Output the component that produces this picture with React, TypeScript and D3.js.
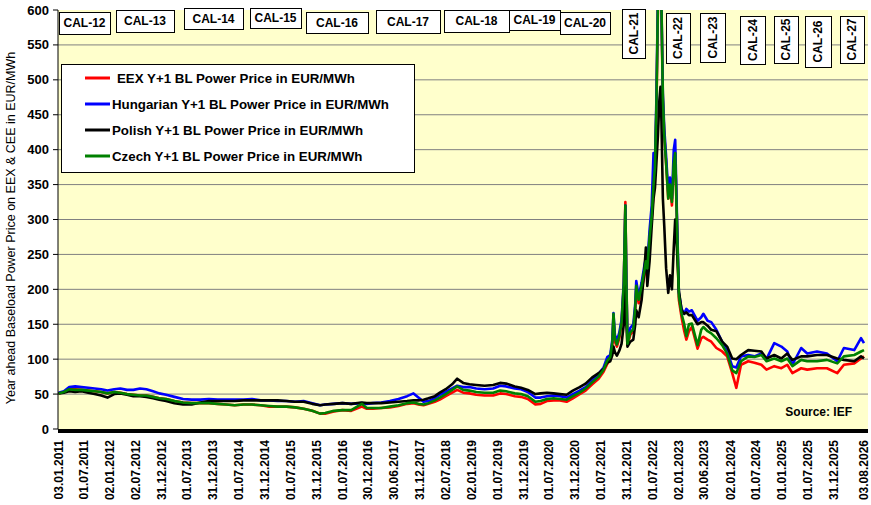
import React from 'react';
import * as d3 from 'd3';

// ---- data ----
const dates = [
  '2011-01-03','2011-02-10','2011-03-20','2011-05-01','2011-06-15','2011-08-01','2011-09-15','2011-11-01','2011-12-15',
  '2012-02-01','2012-03-15','2012-05-01','2012-06-15','2012-08-01','2012-09-15','2012-11-01','2012-12-15',
  '2013-02-01','2013-04-01','2013-06-01','2013-08-01','2013-10-01','2013-12-01',
  '2014-02-01','2014-04-01','2014-06-01','2014-08-01','2014-10-01','2014-12-01',
  '2015-02-01','2015-04-01','2015-06-01','2015-08-01','2015-10-01','2015-12-01',
  '2016-01-25','2016-03-01','2016-05-01','2016-07-01','2016-09-01','2016-11-15','2016-12-20',
  '2017-02-01','2017-04-01','2017-06-01','2017-08-01','2017-10-01','2017-11-15','2017-12-20',
  '2018-01-25','2018-03-01','2018-04-15','2018-05-20','2018-07-01','2018-08-15','2018-09-20','2018-11-01','2018-12-15',
  '2019-02-01','2019-04-01','2019-06-01','2019-07-20','2019-09-01','2019-11-01','2019-12-15',
  '2020-02-01','2020-03-25','2020-05-01','2020-06-15','2020-08-01','2020-09-15','2020-11-01','2020-12-15',
  '2021-02-01','2021-03-15','2021-05-01','2021-06-15','2021-07-20','2021-08-15','2021-09-05','2021-09-20','2021-09-28',
  '2021-10-08','2021-10-22','2021-11-08','2021-11-24','2021-12-10','2021-12-21','2021-12-28',
  '2022-01-05','2022-01-25','2022-02-15','2022-03-01','2022-03-08','2022-03-25','2022-04-15','2022-05-05','2022-05-15',
  '2022-05-25','2022-06-10','2022-06-25','2022-07-08','2022-07-18','2022-07-28','2022-08-08','2022-08-18','2022-08-26',
  '2022-09-02','2022-09-12','2022-09-22','2022-10-05','2022-10-20','2022-11-01','2022-11-15','2022-11-28','2022-12-08','2022-12-20',
  '2023-01-03','2023-01-22','2023-02-10','2023-02-25','2023-03-15','2023-04-05','2023-05-15','2023-06-10','2023-06-25',
  '2023-07-25','2023-08-20','2023-09-25','2023-11-05','2023-12-10',
  '2024-01-15','2024-02-13','2024-03-17','2024-05-07','2024-06-20','2024-08-08','2024-09-13','2024-11-07','2024-12-27',
  '2025-02-07','2025-03-15','2025-05-16','2025-06-28','2025-09-05','2025-11-14',
  '2026-01-26','2026-03-14','2026-05-26','2026-07-13','2026-08-03',
];

const eex = [
  51,53,58,57,56,55,54,53,51,
  53,52,50,49,48,48,46,44,
  43,40,38,37,37,37,
  36,35,34,35,35,34,
  32,32,32,31,29,26,
  22,22,25,27,26,32,29,
  29,30,31,33,36,37,35,
  34,36,39,42,47,52,56,52,51,
  49,48,48,51,50,47,46,
  43,35,36,40,41,41,39,44,
  50,55,64,72,82,93,100,120,160,
  125,118,130,150,205,325,210,
  120,135,140,170,200,180,200,220,235,
  225,270,300,340,370,450,600,640,700,
  600,470,420,380,330,350,320,380,395,300,
  185,160,140,128,140,146,115,130,132,
  128,125,116,111,104,
  80,59,92,97,95,92,85,90,87,
  92,80,87,85,87,87,
  80,92,94,101,104,
];

const hungarian = [
  52,54,60,61,60,59,58,57,55,
  57,58,56,56,58,57,54,51,
  49,46,43,42,42,43,
  42,42,42,42,43,41,
  41,40,40,39,40,37,
  34,35,36,37,36,37,36,
  37,38,40,43,47,51,45,
  39,40,44,49,53,58,62,60,60,
  58,57,58,62,61,58,57,
  53,45,45,47,48,47,45,50,
  55,60,70,79,88,103,106,128,166,
  135,126,138,156,212,320,215,
  128,145,150,180,212,190,210,235,245,
  235,285,320,395,380,470,620,660,720,
  610,480,430,390,340,360,330,400,414,310,
  195,172,165,172,168,170,155,160,165,
  155,153,142,125,111,
  90,88,104,106,104,108,100,123,118,
  111,92,116,108,111,108,
  97,116,113,130,123,
];

const polish = [
  51,52,54,53,54,52,50,48,45,
  50,51,49,47,47,46,44,42,
  40,37,35,35,38,40,
  40,40,40,41,41,41,
  41,41,40,39,39,36,
  34,35,36,37,36,38,37,
  37,37,38,39,40,41,41,
  42,44,47,52,57,64,72,66,64,
  63,62,63,66,65,61,59,
  56,50,51,52,51,50,49,55,
  60,65,74,80,86,95,97,106,118,
  110,105,112,122,150,205,150,
  118,125,128,150,170,160,185,230,260,
  205,240,290,330,345,380,420,470,490,
  440,330,290,230,195,220,200,260,300,260,
  198,170,165,167,163,163,150,153,153,
  148,142,140,125,118,
  101,100,106,113,112,111,101,106,101,
  108,99,104,104,106,106,
  101,99,97,104,101,
];

const czech = [
  51,53,57,56,56,55,54,53,51,
  53,52,50,49,48,48,46,44,
  43,40,38,37,37,37,
  36,35,34,35,35,34,
  33,32,32,31,29,26,
  22,23,26,27,27,36,30,
  30,30,32,34,37,38,36,
  35,37,41,45,50,56,61,56,55,
  53,52,52,55,54,51,50,
  47,39,40,43,44,43,42,47,
  52,58,67,75,85,98,103,124,165,
  130,121,133,152,208,320,212,
  122,138,143,175,205,185,205,228,240,
  230,275,305,350,375,460,610,650,710,
  605,475,420,380,330,350,325,380,395,300,
  190,165,150,133,150,151,120,142,146,
  140,137,130,120,108,
  84,80,97,104,103,106,97,101,97,
  101,90,99,97,97,99,
  94,104,106,111,113,
];

const yTicks = [0, 50, 100, 150, 200, 250, 300, 350, 400, 450, 500, 550, 600];
const xTickLabels = [
  '03.01.2011','01.07.2011','02.01.2012','02.07.2012','31.12.2012','01.07.2013','31.12.2013','01.07.2014',
  '31.12.2014','01.07.2015','31.12.2015','01.07.2016','30.12.2016','30.06.2017','31.12.2017','02.07.2018',
  '02.01.2019','01.07.2019','31.12.2019','01.07.2020','31.12.2020','01.07.2021','31.12.2021','01.07.2022',
  '02.01.2023','30.06.2023','02.01.2024','01.07.2024','01.01.2025','01.07.2025','31.12.2025','03.08.2026',
];
const calLabels = ['CAL-12','CAL-13','CAL-14','CAL-15','CAL-16','CAL-17','CAL-18','CAL-19','CAL-20',
  'CAL-21','CAL-22','CAL-23','CAL-24','CAL-25','CAL-26','CAL-27'];
const legendLabels = [
  'EEX Y+1 BL Power Price in EUR/MWh',
  'Hungarian Y+1 BL Power Price in EUR/MWh',
  'Polish Y+1 BL Power Price in EUR/MWh',
  'Czech Y+1 BL Power Price in EUR/MWh',
];
const yTitle = 'Year ahead Baseload Power Price on EEX & CEE in EUR/MWh';
const sourceText = 'Source: IEF';

// ---- layout / style ----
const W = 871, H = 505;
const P = { left: 58, right: 868, top: 10, bottom: 429 };
const seriesColors = ['#FF0000', '#0000FF', '#000000', '#008000'];
const calBoxes = [
  { x: 59, y: 12, w: 51, h: 22, v: false },
  { x: 116, y: 10, w: 58, h: 22, v: false },
  { x: 184, y: 8, w: 59, h: 21, v: false },
  { x: 250, y: 8, w: 51, h: 20, v: false },
  { x: 306, y: 12, w: 62, h: 21, v: false },
  { x: 376, y: 10, w: 64, h: 23, v: false },
  { x: 444, y: 10, w: 65, h: 22, v: false },
  { x: 509, y: 10, w: 51, h: 20, v: false },
  { x: 560, y: 12, w: 50, h: 22, v: false },
  { x: 622, y: 9, w: 23, h: 49, v: true },
  { x: 666, y: 13, w: 24, h: 50, v: true },
  { x: 700, y: 13, w: 25, h: 49, v: true },
  { x: 740, y: 16, w: 25, h: 48, v: true },
  { x: 774, y: 16, w: 24, h: 47, v: true },
  { x: 805, y: 16, w: 26, h: 51, v: true },
  { x: 840, y: 16, w: 24, h: 47, v: true },
];
const FONT = "Arial, 'Liberation Sans', sans-serif";

export default function App() {
  const parseISO = d3.timeParse('%Y-%m-%d');
  const parseLbl = d3.timeParse('%d.%m.%Y');
  const x = d3.scaleTime()
    .domain([parseLbl(xTickLabels[0]) as Date, parseLbl(xTickLabels[xTickLabels.length - 1]) as Date])
    .range([58.5, 864]);
  const y = d3.scaleLinear().domain([0, 600]).range([P.bottom, P.top]);
  const parsedDates = dates.map((d) => parseISO(d) as Date);
  const series = [eex, hungarian, polish, czech];
  const line = d3.line<number>()
    .x((_, i) => x(parsedDates[i]))
    .y((v) => y(v));

  return (
    <svg width={W} height={H} style={{ position: 'absolute', left: 0, top: 0, fontFamily: FONT }}>
      <defs>
        <clipPath id="plotclip">
          <rect x={P.left} y={P.top} width={P.right - P.left} height={P.bottom - P.top} />
        </clipPath>
      </defs>
      <rect x={0} y={0} width={W} height={H} fill="#ffffff" />
      <rect x={P.left} y={P.top} width={P.right - P.left} height={P.bottom - P.top} fill="#FFFFCC" />
      {/* gridlines */}
      {yTicks.filter((t) => t > 0 && t < 600).map((t) => (
        <line key={t} x1={P.left} x2={P.right} y1={y(t)} y2={y(t)} stroke="#808080" strokeWidth={1} />
      ))}
      {/* series */}
      <g clipPath="url(#plotclip)">
        {series.map((vals, si) => (
          <path key={si} d={line(vals) || ''} fill="none" stroke={seriesColors[si]} strokeWidth={2.6}
            strokeLinejoin="round" />
        ))}
      </g>
      {/* y axis */}
      <line x1={P.left} x2={P.left} y1={P.top} y2={P.bottom} stroke="#000" strokeWidth={1} />
      {yTicks.map((t) => (
        <g key={t}>
          <line x1={P.left - 5} x2={P.left} y1={y(t)} y2={y(t)} stroke="#000" strokeWidth={1} />
          <text x={49} y={y(t)} dy="0.35em" textAnchor="end" fontSize={13} fontWeight="bold" fill="#000">{t}</text>
        </g>
      ))}
      {/* x axis */}
      <rect x={P.left} y={P.bottom} width={P.right - P.left} height={4} fill="#000" />
      {xTickLabels.map((lbl) => {
        const tx = x(parseLbl(lbl) as Date);
        return (
          <text key={lbl} x={tx} y={440} dy="0.35em" textAnchor="end" fontSize={12} fontWeight="bold"
            transform={`rotate(-90, ${tx}, 440)`} fill="#000">{lbl}</text>
        );
      })}
      {/* y title */}
      <text x={11} y={228} dy="0.35em" textAnchor="middle" fontSize={12.5} transform="rotate(-90, 11, 228)" fill="#000">
        {yTitle}
      </text>
      {/* CAL boxes */}
      {calLabels.map((c, i) => {
        const b = calBoxes[i];
        const cx = b.x + b.w / 2, cy = b.y + b.h / 2;
        return (
          <g key={c}>
            <rect x={b.x + 0.5} y={b.y + 0.5} width={b.w} height={b.h} fill="#fff" stroke="#000" strokeWidth={1} />
            <text x={cx} y={cy} dy="0.35em" textAnchor="middle" fontSize={12} fontWeight="bold" fill="#000"
              transform={b.v ? `rotate(-90, ${cx}, ${cy})` : undefined}>{c}</text>
          </g>
        );
      })}
      {/* legend */}
      <rect x={61.5} y={64.5} width={353} height={108} fill="#fff" stroke="#000" strokeWidth={1} />
      {legendLabels.map((l, i) => {
        const ly = 78 + i * 26;
        return (
          <g key={l}>
            <line x1={85} x2={110} y1={ly} y2={ly} stroke={seriesColors[i]} strokeWidth={3} />
            <text x={i === 0 ? 117 : 112} y={ly} dy="0.35em" fontSize={13.3} fontWeight="bold" fill="#000">{l}</text>
          </g>
        );
      })}
      {/* source */}
      <text x={852} y={416} textAnchor="end" fontSize={12} fontWeight="bold" fill="#000">{sourceText}</text>
    </svg>
  );
}
